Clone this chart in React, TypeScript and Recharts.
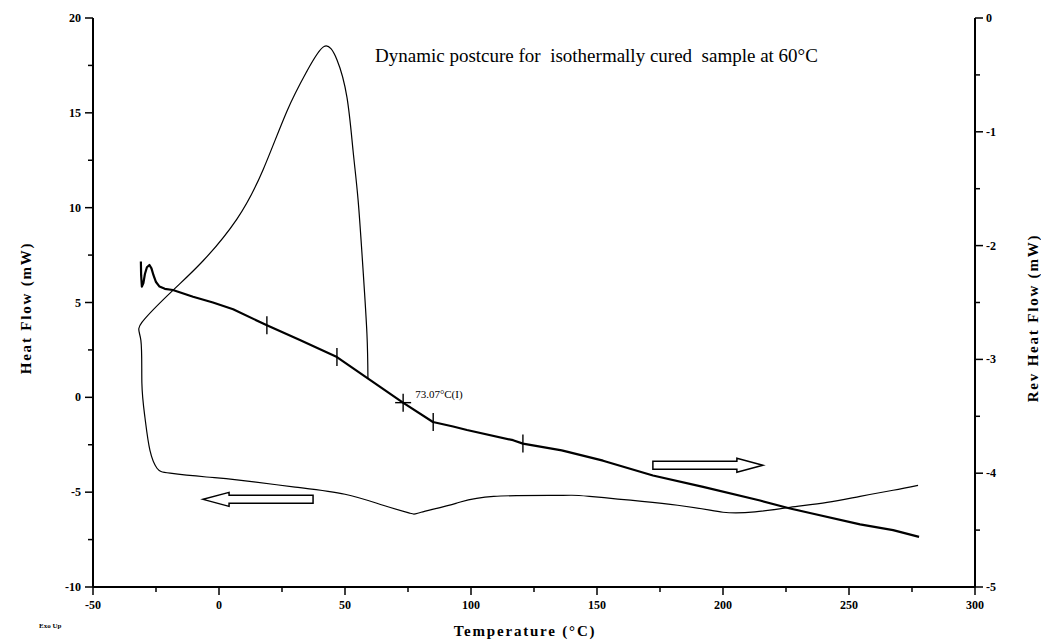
import { ComposedChart, Line, ReferenceDot, XAxis, YAxis } from "recharts"

// heat flow (thin trace, left axis) – traced in drawing order
const heatFlowTemp = [
  59.1, 58.7, 57.1, 55.2, 53.2, 50.8, 46.8, 41.7, 34.9, 27.0, 17.5, 7.1, -6.3, -18.3, -30.6,
  -31.0, -30.6, -29.4, -27.4, -24.6, -19.4, -5.0, 7.1, 30.2, 50.0, 65.1, 75.8, 80.2, 94.0,
  109.0, 136.5, 147.0, 182.0, 200.0, 212.7, 226.6, 241.3, 254.4, 267.5, 277.4,
]
const heatFlowValues = [
  1.0, 3.37, 6.85, 10.4, 13.0, 15.8, 17.8, 18.5, 17.2, 15.1, 12.0, 9.4, 7.2, 5.64, 3.95,
  3.0, 0.74, -1.05, -2.8, -3.74, -4.0, -4.2, -4.35, -4.73, -5.11, -5.69, -6.11, -6.06, -5.59,
  -5.22, -5.17, -5.22, -5.69, -6.06, -6.04, -5.8, -5.54, -5.22, -4.9, -4.64,
]

// reversing heat flow (thick trace, right axis)
const revTemp = [
  -31.0, -30.9, -30.6, -30.0, -29.4, -28.6, -27.6, -26.8, -26.0, -25.0, -23.6, -21.5, -18.3,
  -10.3, -2.4, 5.6, 19.0, 32.1, 46.8, 59.9, 73.0, 84.9, 92.9, 98.4, 116.7, 120.6, 136.0, 152.4,
  172.2, 192.1, 214.7, 226.6, 234.5, 254.4, 267.5, 277.8,
]
const revValues = [
  -2.14, -2.26, -2.36, -2.33, -2.25, -2.19, -2.17, -2.2, -2.26, -2.32, -2.36, -2.38, -2.39,
  -2.45, -2.5, -2.56, -2.7, -2.83, -2.98, -3.18, -3.38, -3.55, -3.59, -3.62, -3.71, -3.74, -3.8,
  -3.89, -4.02, -4.12, -4.24, -4.31, -4.35, -4.45, -4.5, -4.56,
]

// analysis marks on the reversing curve
const markerTemps = [19.0, 46.8, 73.07, 85.0, 120.6]
const markerValues = [-2.7, -2.98, -3.38, -3.55, -3.74]
const markerLabels = ["", "", "73.07°C(I)", "", ""]

const xTicks = [-50, -25, 0, 25, 50, 75, 100, 125, 150, 175, 200, 225, 250, 275, 300]
const leftTicks = [-10, -7.5, -5, -2.5, 0, 2.5, 5, 7.5, 10, 12.5, 15, 17.5, 20]
const rightTicks = [-5, -4.5, -4, -3.5, -3, -2.5, -2, -1.5, -1, -0.5, 0]

const heatFlowData = heatFlowTemp.map((t, i) => ({ t, hf: heatFlowValues[i] }))
const revData = revTemp.map((t, i) => ({ t, r: revValues[i] }))

const tickFont = { fontFamily: "Liberation Serif", fontWeight: 700, fontSize: 12 }

function BottomTick(props: any) {
  const { x, y, payload } = props
  const major = payload.value % 50 === 0
  return (
    <g>
      <line x1={x} x2={x} y1={y} y2={y + (major ? 8 : 5)} stroke="#000" strokeWidth={1.5} />
      {major && (
        <text x={x} y={y + 22} textAnchor="middle" {...tickFont}>
          {payload.value}
        </text>
      )}
    </g>
  )
}

function LeftTick(props: any) {
  const { x, y, payload } = props
  const major = payload.value % 5 === 0
  return (
    <g>
      <line x1={x} x2={x - (major ? 8 : 5)} y1={y} y2={y} stroke="#000" strokeWidth={1.5} />
      {major && (
        <text x={x - 12} y={y + 4} textAnchor="end" {...tickFont}>
          {payload.value}
        </text>
      )}
    </g>
  )
}

function RightTick(props: any) {
  const { x, y, payload } = props
  const major = Number.isInteger(payload.value)
  return (
    <g>
      <line x1={x} x2={x + (major ? 8 : 5)} y1={y} y2={y} stroke="#000" strokeWidth={1.5} />
      {major && (
        <text x={x + 11} y={y + 4} textAnchor="start" {...tickFont}>
          {payload.value}
        </text>
      )}
    </g>
  )
}

function Marker(props: any) {
  const { cx, cy, label } = props
  return (
    <g>
      <line x1={cx} x2={cx} y1={cy - 9} y2={cy + 9} stroke="#000" strokeWidth={1.4} />
      {label && <line x1={cx - 8} x2={cx + 8} y1={cy} y2={cy} stroke="#000" strokeWidth={1.4} />}
      {label && (
        <text x={cx + 12} y={cy - 5} fontFamily="Liberation Serif" fontSize={11}>
          {label}
        </text>
      )}
    </g>
  )
}

function Arrow(props: any) {
  const { cx, cy, dir } = props
  const s = dir
  const half = 55
  const head = 26
  const d = [
    `M ${cx - s * half} ${cy - 4}`,
    `L ${cx + s * (half - head)} ${cy - 4}`,
    `L ${cx + s * (half - head)} ${cy - 7}`,
    `L ${cx + s * half} ${cy}`,
    `L ${cx + s * (half - head)} ${cy + 7}`,
    `L ${cx + s * (half - head)} ${cy + 4}`,
    `L ${cx - s * half} ${cy + 4}`,
    "Z",
  ].join(" ")
  return <path d={d} fill="#fff" stroke="#000" strokeWidth={1.5} />
}

const labelStyle = {
  position: "absolute" as const,
  fontFamily: "Liberation Serif",
  fontWeight: 700,
  fontSize: 15,
  letterSpacing: 1.8,
  lineHeight: "16px",
  whiteSpace: "nowrap" as const,
}

export default function App() {
  return (
    <div style={{ position: "fixed", left: 0, top: 0, width: 1041, height: 643, overflow: "hidden", background: "#fff" }}>
      <div style={{ position: "absolute", left: 8, top: 8 }}>
        <ComposedChart width={1033} height={627} margin={{ top: 10, right: 8, bottom: 18, left: 25 }}>
          <XAxis
            dataKey="t"
            type="number"
            domain={[-50, 300]}
            ticks={xTicks}
            allowDataOverflow
            tickSize={0}
            tickMargin={0}
            tickLine={false}
            tick={<BottomTick />}
            axisLine={{ stroke: "#000", strokeWidth: 2 }}
            height={30}
            interval={0}
          />
          <XAxis
            xAxisId="top"
            orientation="top"
            dataKey="t"
            type="number"
            domain={[-50, 300]}
            tick={false}
            tickLine={false}
            height={0}
            axisLine={{ stroke: "#000", strokeWidth: 2 }}
          />
          <YAxis
            yAxisId="left"
            type="number"
            domain={[-10, 20]}
            ticks={leftTicks}
            allowDataOverflow
            tickSize={0}
            tickMargin={0}
            tickLine={false}
            tick={<LeftTick />}
            width={60}
            interval={0}
            axisLine={{ stroke: "#000", strokeWidth: 2 }}
          />
          <YAxis
            yAxisId="right"
            orientation="right"
            type="number"
            domain={[-5, 0]}
            ticks={rightTicks}
            allowDataOverflow
            tickSize={0}
            tickMargin={0}
            tickLine={false}
            tick={<RightTick />}
            width={58}
            interval={0}
            axisLine={{ stroke: "#000", strokeWidth: 2 }}
          />
          <Line
            data={heatFlowData}
            dataKey="hf"
            yAxisId="left"
            type="natural"
            stroke="#000"
            strokeWidth={1.2}
            dot={false}
            isAnimationActive={false}
          />
          <Line
            data={revData}
            dataKey="r"
            yAxisId="right"
            type="linear"
            stroke="#000"
            strokeWidth={2.2}
            strokeLinejoin="round"
            dot={false}
            isAnimationActive={false}
          />
          {markerTemps.map((t, i) => (
            <ReferenceDot
              key={t}
              x={t}
              y={markerValues[i]}
              yAxisId="right"
              shape={(p: any) => <Marker {...p} label={markerLabels[i]} />}
            />
          ))}
          <ReferenceDot x={15.5} y={-5.38} yAxisId="left" shape={(p: any) => <Arrow {...p} dir={-1} />} />
          <ReferenceDot x={194} y={-3.58} yAxisId="left" shape={(p: any) => <Arrow {...p} dir={1} />} />
        </ComposedChart>
      </div>

      <div style={{ ...labelStyle, fontWeight: 400, fontSize: 19, letterSpacing: 0, lineHeight: "22px", left: 375, top: 45 }}>
        Dynamic postcure for&nbsp; isothermally cured&nbsp; sample at 60°C
      </div>
      <div style={{ ...labelStyle, left: 26, top: 308, transform: "translate(-50%, -50%) rotate(-90deg)" }}>
        Heat Flow (mW)
      </div>
      <div style={{ ...labelStyle, left: 1033, top: 318, transform: "translate(-50%, -50%) rotate(-90deg)" }}>
        Rev Heat Flow (mW)
      </div>
      <div style={{ ...labelStyle, left: 525, top: 631, transform: "translate(-50%, -50%)" }}>
        Temperature (°C)
      </div>
      <div style={{ ...labelStyle, fontSize: 7, letterSpacing: 0, lineHeight: "8px", left: 39, top: 622 }}>Exo Up</div>
    </div>
  )
}
